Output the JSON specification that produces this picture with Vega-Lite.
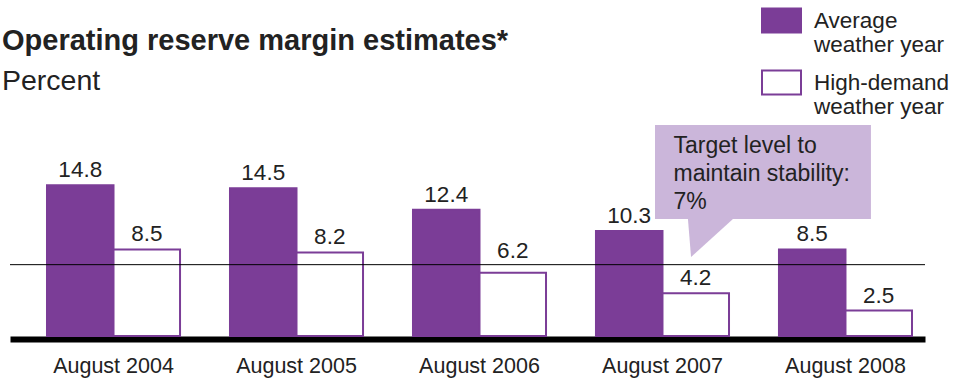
{
  "$schema": "https://vega.github.io/schema/vega-lite/v6.json",
  "width": 915,
  "height": 214,
  "autosize": "none",
  "padding": {"left": 10, "top": 122, "right": 31, "bottom": 43},
  "background": "white",
  "config": {
    "font": "Liberation Sans",
    "view": {"stroke": null}
  },
  "title": {
    "text": "Operating reserve margin estimates*",
    "subtitle": "Percent",
    "anchor": "start",
    "frame": "group",
    "fontSize": 29,
    "fontWeight": "bold",
    "color": "#222222",
    "subtitleFontSize": 28.5,
    "subtitleColor": "#222222",
    "subtitlePadding": 11,
    "offset": -95,
    "dx": -8
  },
  "datasets": {
    "margins": [
      {"period": "August 2004", "series": "Average weather year", "value": 14.8},
      {"period": "August 2004", "series": "High-demand weather year", "value": 8.5},
      {"period": "August 2005", "series": "Average weather year", "value": 14.5},
      {"period": "August 2005", "series": "High-demand weather year", "value": 8.2},
      {"period": "August 2006", "series": "Average weather year", "value": 12.4},
      {"period": "August 2006", "series": "High-demand weather year", "value": 6.2},
      {"period": "August 2007", "series": "Average weather year", "value": 10.3},
      {"period": "August 2007", "series": "High-demand weather year", "value": 4.2},
      {"period": "August 2008", "series": "Average weather year", "value": 8.5},
      {"period": "August 2008", "series": "High-demand weather year", "value": 2.5}
    ],
    "target": [{"level": 7}],
    "callout": [{"x": 2.959, "x2": 4.139, "y": 11.48, "y2": 20.7}],
    "pointer": [
      {"x": 3.139, "y": 11.48, "y2": 11.48},
      {"x": 3.156, "y": 7.75, "y2": 11.48},
      {"x": 3.385, "y": 11.48, "y2": 11.48}
    ],
    "note": [{"x": 3.06, "y": 18.0, "text": "Target level to\nmaintain stability:\n7%"}]
  },
  "layer": [
    {
      "layer": [
        {
          "data": {"name": "margins"},
          "mark": {"type": "bar", "stroke": "#7B3D97", "strokeWidth": 2},
          "encoding": {
            "x": {
              "field": "period", "type": "nominal", "sort": null,
              "scale": {"paddingInner": 0.273, "paddingOuter": 0.1366, "align": 0.74},
              "axis": {
                "title": null, "labelAngle": 0, "ticks": false,
                "domainColor": "black", "domainWidth": 6, "offset": 3,
                "labelFontSize": 21.5, "labelColor": "#222222", "labelPadding": 16
              }
            },
            "xOffset": {"field": "series", "type": "nominal", "sort": null, "scale": {"paddingInner": 0, "paddingOuter": 0}},
            "y": {"field": "value", "type": "quantitative", "scale": {"domain": [0, 21], "nice": false}, "axis": null},
            "fill": {
              "field": "series", "type": "nominal", "sort": null,
              "scale": {"domain": ["Average weather year", "High-demand weather year"], "range": ["#7B3D97", "#FFFFFF"]},
              "legend": {
                "title": null, "orient": "none", "legendX": 751, "legendY": -122, "padding": 0,
                "symbolType": "M-1,-0.615H1V0.615H-1Z", "symbolSize": 1521,
                "symbolStrokeColor": "#7B3D97", "symbolStrokeWidth": 2, "symbolOpacity": 1,
                "labelFontSize": 22.5, "labelColor": "#222222", "labelOffset": 12, "labelLimit": 300,
                "labelExpr": "datum.value == 'Average weather year' ? ['Average', 'weather year'] : ['High-demand', 'weather year']",
                "rowPadding": 5
              }
            }
          }
        },
        {
          "data": {"name": "margins"},
          "transform": [{"filter": "datum.value < 5.5 || datum.value >= 7.5"}],
          "mark": {"type": "text", "baseline": "alphabetic", "dy": -8, "fontSize": 22.5, "color": "#222222"},
          "encoding": {
            "x": {"field": "period", "type": "nominal", "sort": null},
            "xOffset": {"field": "series", "type": "nominal", "sort": null},
            "y": {"field": "value", "type": "quantitative"},
            "text": {"field": "value", "type": "quantitative", "format": ".1f"}
          }
        },
        {
          "data": {"name": "margins"},
          "transform": [{"filter": "datum.value >= 5.5 && datum.value < 7.5"}],
          "mark": {"type": "text", "baseline": "alphabetic", "dy": -15, "fontSize": 22.5, "color": "#222222"},
          "encoding": {
            "x": {"field": "period", "type": "nominal", "sort": null},
            "xOffset": {"field": "series", "type": "nominal", "sort": null},
            "y": {"field": "value", "type": "quantitative"},
            "text": {"field": "value", "type": "quantitative", "format": ".1f"}
          }
        },
        {
          "data": {"name": "target"},
          "mark": {"type": "rule", "color": "black", "strokeWidth": 1},
          "encoding": {"y": {"field": "level", "type": "quantitative"}}
        }
      ]
    },
    {
      "layer": [
        {
          "data": {"name": "callout"},
          "mark": {"type": "rect", "fill": "#CBB6DA"},
          "encoding": {
            "x": {"field": "x", "type": "quantitative", "scale": {"domain": [-0.5656, 4.4344], "nice": false, "zero": false}, "axis": null},
            "x2": {"field": "x2"},
            "y": {"field": "y", "type": "quantitative"},
            "y2": {"field": "y2"}
          }
        },
        {
          "data": {"name": "pointer"},
          "mark": {"type": "area", "fill": "#CBB6DA", "opacity": 1},
          "encoding": {
            "x": {"field": "x", "type": "quantitative"},
            "y": {"field": "y", "type": "quantitative"},
            "y2": {"field": "y2"}
          }
        },
        {
          "data": {"name": "note"},
          "mark": {"type": "text", "align": "left", "baseline": "alphabetic", "fontSize": 23, "lineHeight": 28, "lineBreak": "\n", "color": "#222222"},
          "encoding": {
            "x": {"field": "x", "type": "quantitative"},
            "y": {"field": "y", "type": "quantitative"},
            "text": {"field": "text"}
          }
        }
      ]
    }
  ],
  "resolve": {"scale": {"x": "independent"}}
}
